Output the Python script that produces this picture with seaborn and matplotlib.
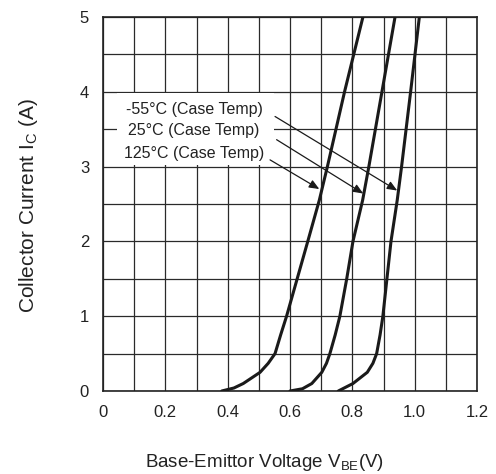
import matplotlib
matplotlib.use("Agg")
import matplotlib.pyplot as plt
import seaborn as sns
import pandas as pd
from matplotlib.patches import Rectangle

# ---- data ----
vbe_125 = [0.381, 0.420, 0.450, 0.504, 0.530, 0.552, 0.570, 0.589, 0.623, 0.657, 0.694, 0.720, 0.775, 0.834]
ic_125  = [0.0,   0.04,  0.10,  0.25,  0.37,  0.50,  0.75,  1.00,  1.50,  2.00,  2.55,  3.00,  4.00,  5.00]

vbe_25 = [0.600, 0.640, 0.670, 0.702, 0.717, 0.728, 0.745, 0.760, 0.782, 0.802, 0.833, 0.853, 0.895, 0.937]
ic_25  = [0.0,   0.03,  0.10,  0.25,  0.37,  0.50,  0.75,  1.00,  1.50,  2.00,  2.55,  3.00,  4.00,  5.00]

vbe_m55 = [0.755, 0.802, 0.848, 0.866, 0.878, 0.889, 0.898, 0.911, 0.924, 0.944, 0.958, 0.987, 1.015]
ic_m55  = [0.0,   0.10,  0.25,  0.37,  0.50,  0.75,  1.00,  1.50,  2.00,  2.55,  3.00,  4.00,  5.00]

labels = ["-55°C (Case Temp)", "25°C (Case Temp)", "125°C (Case Temp)"]
label_y = [3.77, 3.48, 3.17]
arrow_start = [(0.552, 3.67), (0.557, 3.36), (0.536, 3.09)]
arrow_end = [(0.944, 2.68), (0.835, 2.64), (0.694, 2.70)]

x_ticks = [0, 0.2, 0.4, 0.6, 0.8, 1.0, 1.2]
x_tick_labels = ["0", "0.2", "0.4", "0.6", "0.8", "1.0", "1.2"]
y_ticks = [0, 1, 2, 3, 4, 5]

df = pd.concat([
    pd.DataFrame({"vbe": vbe_m55, "ic": ic_m55, "temp": "-55"}),
    pd.DataFrame({"vbe": vbe_25, "ic": ic_25, "temp": "25"}),
    pd.DataFrame({"vbe": vbe_125, "ic": ic_125, "temp": "125"}),
], ignore_index=True)

sns.set_style("white")
plt.rcParams["font.family"] = ["Liberation Sans", "DejaVu Sans"]
plt.rcParams["mathtext.fontset"] = "custom"
plt.rcParams["mathtext.rm"] = "Liberation Sans"
plt.rcParams["mathtext.it"] = "Liberation Sans"

fig = plt.figure(figsize=(4.96, 4.74), dpi=100)
ax = fig.add_axes([103 / 496, 1 - 391 / 474, 374 / 496, 374 / 474])

sns.lineplot(data=df, x="vbe", y="ic", hue="temp", units="temp", estimator=None,
             sort=False, palette=["#1a1a1a"] * 3, linewidth=2.2, legend=False,
             ax=ax, zorder=5)

ax.set_xlim(0, 1.2)
ax.set_ylim(0, 5)
ax.set_xticks(x_ticks)
ax.set_xticklabels(x_tick_labels)
ax.set_yticks(y_ticks)
ax.set_xticks([i / 10 for i in range(13)], minor=True)
ax.set_yticks([i / 2 for i in range(11)], minor=True)
ax.grid(True, which="both", color="#2a2a2a", linewidth=0.9)
ax.set_axisbelow(True)
ax.tick_params(which="both", length=0, pad=10, labelsize=12, colors="#222222")
for s in ax.spines.values():
    s.set_color("#222222")
    s.set_linewidth(1.2)

# white label area
ax.add_patch(Rectangle((0.044, 3.02), 0.506, 0.96, facecolor="white",
                       edgecolor="none", zorder=2))
for lab, yy in zip(labels, label_y):
    ax.text(0.292, yy, lab, ha="center", va="center", fontsize=11.5,
            color="#222222", zorder=6)
for (x0, y0), (x1, y1) in zip(arrow_start, arrow_end):
    ax.annotate("", xy=(x1, y1), xytext=(x0, y0),
                arrowprops=dict(arrowstyle="-|>,head_length=0.6,head_width=0.25",
                                color="#1a1a1a", lw=0.9, shrinkA=0, shrinkB=0),
                zorder=6)

ax.set_xlabel("Base-Emittor Voltage V$_{\\mathrm{BE}}$(V)", fontsize=13.5, color="#222222")
ax.xaxis.set_label_coords(0.433, -0.19)
ax.xaxis.label.set_va("center")
ax.set_ylabel("Collector Current I$_{\\mathrm{C}}$ (A)", fontsize=15, color="#222222")
ax.yaxis.set_label_coords(-0.20, 0.495)
ax.yaxis.label.set_va("center")

fig.savefig("out.png", dpi=100, facecolor="white")
